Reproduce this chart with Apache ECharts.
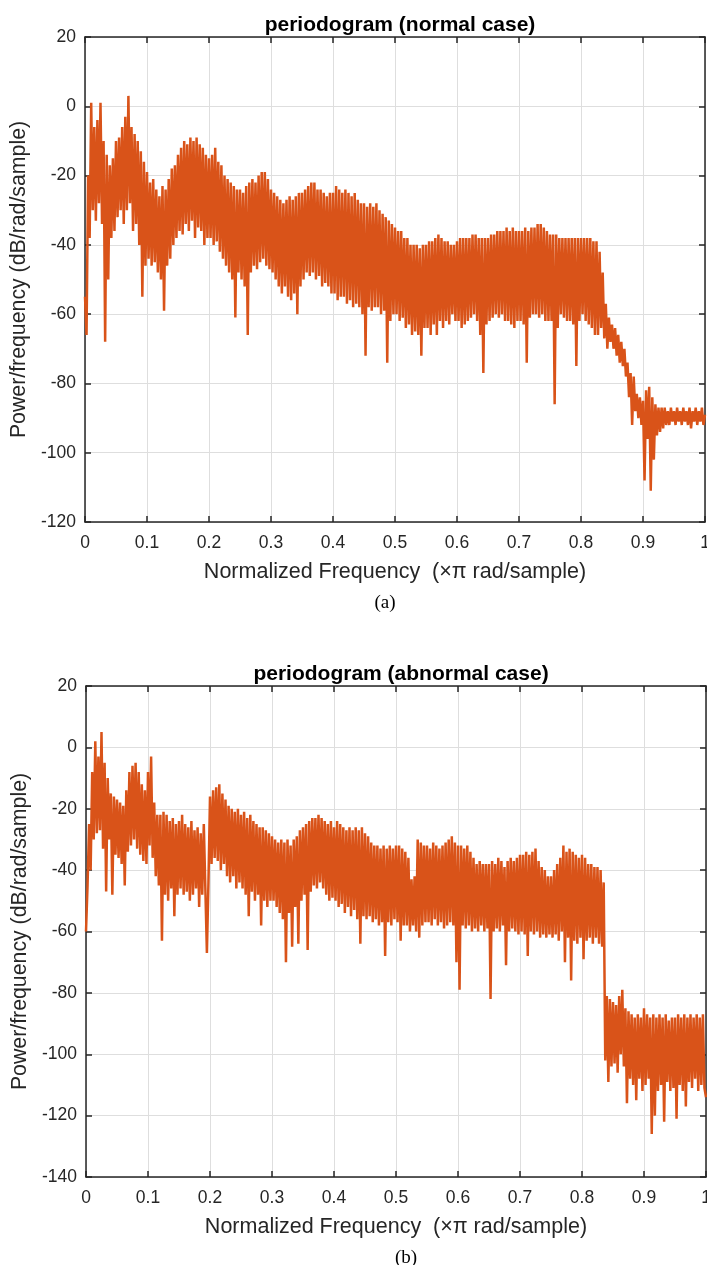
<!DOCTYPE html>
<html><head><meta charset="utf-8">
<script src="https://cdn.jsdelivr.net/npm/echarts@6/dist/echarts.min.js"></script>
<style>html,body{margin:0;padding:0;background:#fff}#c{width:707px;height:1265px}</style>
</head><body><div id="c"></div>
<script>
// ---- data ----
const freqTickLabels = ['0','0.1','0.2','0.3','0.4','0.5','0.6','0.7','0.8','0.9','1'];
const yTicksNormal = [-120,-100,-80,-60,-40,-20,0,20];
const yTicksAbnormal = [-140,-120,-100,-80,-60,-40,-20,0,20];
const chartTitles = ['periodogram (normal case)','periodogram (abnormal case)'];
const captions = ['(a)','(b)'];
const xAxisTitle = 'Normalized Frequency  (×π rad/sample)';
const yAxisTitle = 'Power/frequency (dB/rad/sample)';

// PSD (dB/rad/sample) on a uniform grid 0..1 (401 samples)
const psdNormal = [
-55,-66,-20,-38,1,-30,-6,-33,-4,-28,1,-34,-10,-68,-14,-50,-17,-38,-15,-36,
-10,-32,-9,-30,-6,-34,-3,-30,3,-28,-6,-36,-8,-34,-10,-40,-13,-55,-16,-46,
-19,-44,-22,-46,-21,-45,-24,-48,-26,-50,-23,-59,-24,-46,-21,-44,-18,-40,-17,-38,
-14,-36,-12,-37,-10,-34,-11,-36,-9,-33,-10,-38,-9,-35,-11,-36,-12,-40,-14,-38,
-15,-38,-14,-40,-12,-39,-16,-42,-17,-44,-20,-46,-21,-48,-22,-50,-23,-61,-24,-48,
-24,-50,-25,-52,-23,-66,-22,-48,-21,-46,-22,-47,-20,-45,-19,-44,-19,-46,-21,-47,
-24,-48,-25,-50,-26,-52,-27,-54,-28,-52,-27,-55,-26,-56,-27,-54,-26,-60,-25,-52,
-25,-50,-24,-48,-23,-49,-22,-48,-22,-50,-24,-49,-24,-52,-25,-51,-26,-52,-25,-54,
-25,-54,-23,-56,-24,-55,-25,-55,-24,-57,-25,-56,-26,-58,-25,-57,-27,-58,-28,-60,
-28,-72,-29,-58,-28,-59,-29,-58,-28,-58,-30,-60,-31,-59,-32,-74,-33,-62,-34,-60,
-35,-60,-36,-62,-36,-61,-38,-64,-38,-63,-40,-66,-40,-65,-40,-66,-41,-72,-40,-64,
-40,-64,-39,-66,-39,-63,-38,-66,-37,-62,-38,-64,-39,-62,-39,-63,-40,-60,-40,-62,
-39,-62,-38,-64,-38,-63,-38,-62,-38,-61,-37,-60,-37,-62,-38,-66,-38,-77,-38,-63,
-38,-62,-37,-61,-37,-60,-36,-61,-36,-60,-36,-62,-35,-62,-36,-63,-35,-64,-36,-62,
-36,-62,-36,-63,-35,-74,-36,-61,-35,-60,-35,-60,-34,-61,-34,-60,-35,-62,-36,-62,
-37,-62,-37,-86,-37,-64,-38,-60,-38,-61,-38,-62,-38,-62,-38,-63,-38,-75,-38,-62,
-38,-60,-38,-62,-38,-63,-38,-64,-39,-66,-39,-66,-42,-64,-48,-67,-57,-70,-61,-68,
-63,-70,-64,-72,-66,-74,-68,-75,-70,-78,-74,-84,-77,-92,-78,-88,-83,-90,-84,-92,
-85,-108,-82,-96,-81,-111,-84,-102,-86,-95,-87,-94,-87,-93,-87,-92,-88,-92,-87,-91,
-88,-92,-87,-91,-88,-92,-87,-91,-88,-92,-87,-93,-88,-91,-87,-92,-88,-91,-87,-92,-89
];
const psdAbnormal = [
-60,-45,-25,-40,-8,-30,2,-28,-3,-27,5,-33,-5,-47,-10,-30,-15,-48,-16,-35,
-17,-36,-18,-38,-19,-45,-14,-34,-8,-32,-6,-30,-5,-33,-8,-35,-12,-37,-14,-38,
-8,-32,-3,-36,-18,-42,-22,-45,-22,-63,-21,-48,-22,-50,-24,-46,-23,-55,-25,-48,
-24,-46,-22,-48,-25,-47,-26,-50,-24,-48,-27,-46,-26,-52,-28,-48,-25,-46,-67,-44,
-16,-38,-14,-36,-13,-37,-12,-40,-15,-38,-17,-42,-19,-44,-20,-42,-21,-46,-20,-44,
-22,-46,-21,-48,-23,-55,-22,-47,-24,-50,-25,-48,-26,-58,-26,-50,-27,-52,-28,-50,
-29,-50,-30,-52,-31,-54,-30,-56,-31,-70,-30,-54,-32,-65,-30,-52,-29,-64,-27,-50,
-26,-48,-25,-66,-24,-47,-23,-45,-23,-46,-22,-44,-23,-46,-24,-48,-25,-50,-24,-49,
-26,-50,-24,-52,-25,-51,-26,-54,-27,-52,-26,-55,-27,-53,-26,-56,-27,-64,-26,-55,
-28,-56,-29,-55,-31,-57,-32,-56,-32,-58,-33,-57,-32,-68,-33,-57,-32,-58,-33,-56,
-32,-57,-32,-63,-33,-58,-34,-58,-36,-60,-43,-58,-42,-60,-30,-62,-31,-58,-32,-57,
-32,-57,-33,-58,-31,-56,-32,-58,-33,-57,-32,-59,-31,-58,-30,-57,-29,-58,-31,-70,
-32,-79,-32,-58,-33,-59,-32,-58,-34,-60,-36,-59,-38,-60,-37,-58,-38,-60,-38,-59,
-38,-82,-37,-60,-38,-59,-36,-60,-37,-58,-39,-71,-37,-60,-36,-59,-37,-60,-36,-61,
-35,-60,-35,-61,-34,-68,-35,-60,-34,-61,-33,-60,-37,-62,-39,-61,-40,-62,-42,-61,
-42,-62,-40,-61,-38,-63,-36,-60,-32,-70,-34,-62,-33,-76,-34,-63,-35,-64,-36,-62,
-35,-69,-36,-63,-38,-62,-38,-64,-39,-62,-39,-64,-40,-65,-44,-102,-81,-109,-82,-104,
-83,-103,-84,-106,-81,-100,-79,-104,-85,-116,-86,-108,-87,-110,-88,-115,-87,-108,-88,-112,
-85,-110,-87,-108,-88,-126,-87,-120,-88,-112,-87,-110,-88,-122,-87,-109,-89,-112,-88,-111,
-88,-121,-87,-110,-88,-112,-87,-117,-88,-109,-87,-111,-88,-108,-87,-112,-88,-110,-87,-111,-114
];

// ---- chart ----
const SANS = '"Liberation Sans", Arial, Helvetica, sans-serif';
const SERIF = '"Liberation Serif", "Times New Roman", serif';
const INK = '#262626';
const LINE_COLOR = '#D95319';

function toXY(arr){ const n = arr.length - 1; return arr.map((v,i)=>[i/n, v]); }

const grids = [
  {left:85, top:37, width:620, height:485, containLabel:false, outerBoundsMode:'none'},
  {left:86, top:686, width:620, height:491, containLabel:false, outerBoundsMode:'none'}
];
const yTickSets = [yTicksNormal, yTicksAbnormal];
const psdSets = [psdNormal, psdAbnormal];

const xAxes = [], yAxes = [], series = [];
grids.forEach((g, k) => {
  const yt = yTickSets[k];
  xAxes.push({
    type:'value', gridIndex:k, min:0, max:1, interval:0.1, position:'bottom',
    name: xAxisTitle, nameLocation:'middle', nameGap:39,
    nameTextStyle:{fontFamily:SANS, fontSize:21.5, color:INK},
    axisLine:{show:true, onZero:false, lineStyle:{color:INK, width:1.5}},
    axisTick:{show:true, inside:true, length:6, lineStyle:{color:INK, width:1.5}},
    axisLabel:{fontFamily:SANS, fontSize:17.5, color:INK, margin:12,
      formatter:(v)=>freqTickLabels[Math.round(v*10)]},
    splitLine:{show:true, lineStyle:{color:'#dedede', width:1}}
  });
  xAxes.push({
    type:'value', gridIndex:k, min:0, max:1, interval:0.1, position:'top',
    axisLine:{show:true, onZero:false, lineStyle:{color:INK, width:1.5}},
    axisTick:{show:true, inside:true, length:6, lineStyle:{color:INK, width:1.5}},
    axisLabel:{show:false}, splitLine:{show:false}
  });
  yAxes.push({
    type:'value', gridIndex:k, min:yt[0], max:yt[yt.length-1], interval:20, position:'left',
    name: yAxisTitle, nameLocation:'middle', nameGap:53, nameRotate:90,
    nameTextStyle:{fontFamily:SANS, fontSize:21.3, color:INK},
    axisLine:{show:true, onZero:false, lineStyle:{color:INK, width:1.5}},
    axisTick:{show:true, inside:true, length:6, lineStyle:{color:INK, width:1.5}},
    axisLabel:{fontFamily:SANS, fontSize:17.5, color:INK, margin:9},
    splitLine:{show:true, lineStyle:{color:'#dedede', width:1}}
  });
  yAxes.push({
    type:'value', gridIndex:k, min:yt[0], max:yt[yt.length-1], interval:20, position:'right',
    axisLine:{show:true, onZero:false, lineStyle:{color:INK, width:1.5}},
    axisTick:{show:true, inside:true, length:6, lineStyle:{color:INK, width:1.5}},
    axisLabel:{show:false}, splitLine:{show:false}
  });
  series.push({
    type:'line', xAxisIndex:2*k, yAxisIndex:2*k, data:toXY(psdSets[k]),
    showSymbol:false, symbol:'none', clip:true, sampling:null,
    lineStyle:{color:LINE_COLOR, width:2.5, join:'miter', miterLimit:2}, silent:true, z:3
  });
});

const titleCfg = [
  {text:chartTitles[0], left:395, top:10, textAlign:'center',
   textStyle:{fontFamily:SANS, fontSize:21, fontWeight:'bold', color:'#000'}},
  {text:chartTitles[1], left:396, top:659, textAlign:'center',
   textStyle:{fontFamily:SANS, fontSize:21, fontWeight:'bold', color:'#000'}},
  {text:captions[0], left:380, top:589, textAlign:'center',
   textStyle:{fontFamily:SERIF, fontSize:19, fontWeight:'normal', color:'#000'}},
  {text:captions[1], left:401, top:1244, textAlign:'center',
   textStyle:{fontFamily:SERIF, fontSize:19, fontWeight:'normal', color:'#000'}}
];

const chart = echarts.init(document.getElementById('c'), null, {renderer:'canvas'});
chart.setOption({
  animation:false,
  backgroundColor:'#ffffff',
  title:titleCfg,
  grid:grids,
  xAxis:xAxes,
  yAxis:yAxes,
  series:series
});
</script>
</body></html>
